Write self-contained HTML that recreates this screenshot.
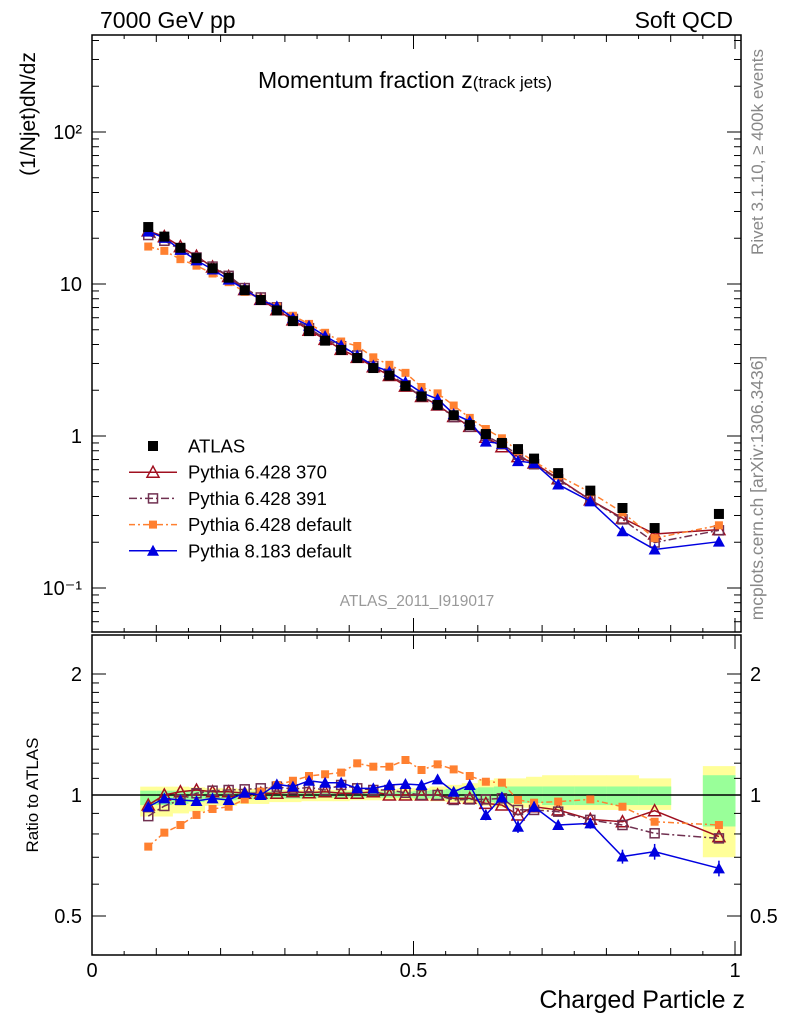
<!DOCTYPE html>
<html><head><meta charset="utf-8"><style>
html,body{margin:0;padding:0;background:#fff;}
svg{display:block;font-family:"Liberation Sans",sans-serif;}
</style></head><body>
<svg id="chart" width="786" height="1024" viewBox="0 0 786 1024" xmlns="http://www.w3.org/2000/svg">
<text x="100" y="28" font-size="23">7000 GeV pp</text>
<text x="733" y="28" font-size="23" text-anchor="end">Soft QCD</text>
<text x="258" y="88" font-size="23">Momentum fraction z<tspan font-size="17">(track jets)</tspan></text>
<text transform="translate(35,114) rotate(-90)" font-size="21" text-anchor="middle">(1/Njet)dN/dz</text>
<text transform="translate(763,152) rotate(-90)" font-size="17" fill="#888" text-anchor="middle">Rivet 3.1.10, ≥ 400k events</text>
<text transform="translate(763,488) rotate(-90)" font-size="17.5" fill="#888" text-anchor="middle">mcplots.cern.ch [arXiv:1306.3436]</text>
<text x="417" y="606" font-size="15.5" fill="#999" text-anchor="middle">ATLAS_2011_I919017</text>
<text transform="translate(38,795) rotate(-90)" font-size="17" text-anchor="middle">Ratio to ATLAS</text>
<text x="745" y="1008" font-size="25" text-anchor="end">Charged Particle z</text>
<g id="g"></g>
</svg>
<script>
const zCenters=[0.0875,0.1125,0.1375,0.1625,0.1875,0.2125,0.2375,0.2625,0.2875,0.3125,0.3375,0.3625,0.3875,0.4125,0.4375,0.4625,0.4875,0.5125,0.5375,0.5625,0.5875,0.6125,0.6375,0.6625,0.6875,0.725,0.775,0.825,0.875,0.975];
const zLo=[0.075,0.1,0.125,0.15,0.175,0.2,0.225,0.25,0.275,0.3,0.325,0.35,0.375,0.4,0.425,0.45,0.475,0.5,0.525,0.55,0.575,0.6,0.625,0.65,0.675,0.7,0.75,0.8,0.85,0.95];
const zHi=[0.1,0.125,0.15,0.175,0.2,0.225,0.25,0.275,0.3,0.325,0.35,0.375,0.4,0.425,0.45,0.475,0.5,0.525,0.55,0.575,0.6,0.625,0.65,0.675,0.7,0.75,0.8,0.85,0.9,1.0];
const atlas=[23.7,20.5,17.3,14.8,12.7,11.0,9.1,7.85,6.7,5.7,4.9,4.24,3.68,3.26,2.8,2.5,2.13,1.82,1.6,1.37,1.18,1.03,0.9,0.82,0.71,0.57,0.437,0.336,0.248,0.307];
const r370=[0.944,1.0,1.019,1.029,1.019,1.019,1.01,1.01,1.01,1.019,1.013,1.019,1.01,1.01,1.019,1.0,1.0,1.0,1.0,0.981,0.981,0.953,0.944,0.892,0.935,0.918,0.87,0.858,0.914,0.788];
const r391=[0.886,0.939,0.972,1.01,1.025,1.029,1.033,1.039,1.049,1.033,1.045,1.029,1.059,1.039,1.029,1.029,1.013,1.0,1.0,0.972,0.975,0.975,0.981,0.918,0.918,0.909,0.867,0.842,0.803,0.78];
const rDef=[0.744,0.806,0.842,0.892,0.923,0.935,0.975,1.019,1.059,1.085,1.115,1.126,1.137,1.199,1.176,1.176,1.222,1.154,1.192,1.158,1.115,1.079,1.073,0.972,0.957,0.963,0.975,0.935,0.858,0.842];
const rP8=[0.935,0.981,0.972,0.966,0.981,0.972,1.013,1.0,1.063,1.049,1.085,1.073,1.073,1.039,1.039,1.059,1.065,1.059,1.094,1.019,1.059,0.892,0.987,0.834,0.935,0.842,0.85,0.703,0.723,0.657];
const rP8Err=[0.01,0.01,0.01,0.01,0.01,0.01,0.01,0.01,0.015,0.015,0.015,0.015,0.015,0.02,0.02,0.02,0.02,0.02,0.025,0.025,0.03,0.03,0.03,0.035,0.03,0.025,0.03,0.04,0.045,0.045];
const yelLo=[0.884,0.884,0.9,0.91,0.94,0.94,0.95,0.95,0.96,0.96,0.965,0.965,0.965,0.97,0.97,0.97,0.97,0.97,0.965,0.96,0.95,0.94,0.93,0.93,0.93,0.918,0.918,0.918,0.918,0.70];
const yelHi=[1.049,1.049,1.049,1.045,1.04,1.04,1.035,1.035,1.03,1.03,1.03,1.03,1.03,1.03,1.03,1.035,1.04,1.04,1.05,1.06,1.07,1.09,1.1,1.1,1.11,1.12,1.12,1.12,1.1,1.18];
const grnLo=[0.944,0.944,0.95,0.96,0.97,0.97,0.975,0.975,0.98,0.98,0.98,0.985,0.985,0.985,0.985,0.985,0.985,0.98,0.98,0.975,0.97,0.96,0.955,0.955,0.955,0.944,0.944,0.944,0.944,0.835];
const grnHi=[1.025,1.025,1.025,1.025,1.02,1.02,1.02,1.02,1.02,1.02,1.02,1.02,1.02,1.02,1.02,1.02,1.02,1.025,1.03,1.035,1.04,1.045,1.05,1.05,1.05,1.05,1.05,1.05,1.05,1.12];
const mainTicks=["10\u207B\u00B9","1","10","10\u00B2"];
const ratioTicks=["0.5","1","2"];
const xTicks=["0","0.5","1"];

const NS="http://www.w3.org/2000/svg";
const G=document.getElementById('g');
function mk(t,a,p){const e=document.createElementNS(NS,t);for(const k in a)e.setAttribute(k,a[k]);(p||G).appendChild(e);return e;}
const X0=92,X1=741;
const xs=z=>92+z*643;
const ys=v=>436-152*Math.log10(v);
const yr=r=>795-121*Math.log2(r);
const MT=35,MB=632,RT=635,RB=955;

const bands=mk('g',{});


zCenters.forEach((z,i)=>{
  const a=mk('rect',{x:xs(zLo[i]),y:yr(yelHi[i]),width:xs(zHi[i])-xs(zLo[i])+0.5,height:yr(yelLo[i])-yr(yelHi[i]),fill:'#ffff99'},bands);
  
  
  const b=mk('rect',{x:xs(zLo[i]),y:yr(grnHi[i]),width:xs(zHi[i])-xs(zLo[i])+0.5,height:yr(grnLo[i])-yr(grnHi[i]),fill:'#99ff99'},bands);
  
  
});
const one=mk('line',{x1:X0,x2:X1,y1:yr(1),y2:yr(1),stroke:'#000','stroke-width':1.5});



[[MT,MB,'main-frame'],[RT,RB,'ratio-frame']].forEach(([t,b,n])=>{
  const f=mk('rect',{x:X0,y:t,width:X1-X0,height:b-t,fill:'none',stroke:'#000','stroke-width':1.5});
  
  
});
for(let d=-2;d<=2;d++){for(let m=1;m<10;m++){const v=m*Math.pow(10,d);const y=ys(v);if(y<MT||y>MB)continue;const L=m==1?14:7;
  mk('line',{x1:X0,x2:X0+L,y1:y,y2:y,stroke:'#000'});mk('line',{x1:X1-L,x2:X1,y1:y,y2:y,stroke:'#000'});}}
[0.1,1,10,100].forEach((v,i)=>{const t=mk('text',{x:82,y:ys(v)+7,'font-size':20,'text-anchor':'end'});t.textContent=mainTicks[i];
  
  });
[0.4,0.5,0.6,0.7,0.8,0.9,1,1.1,1.2,1.3,1.4,1.5,1.6,1.7,1.8,1.9,2,2.5].forEach(v=>{const y=yr(v);if(y<RT||y>RB)return;const L=(v==0.5||v==1||v==2)?14:7;
  mk('line',{x1:X0,x2:X0+L,y1:y,y2:y,stroke:'#000'});mk('line',{x1:X1-L,x2:X1,y1:y,y2:y,stroke:'#000'});});
[0.5,1,2].forEach((v,i)=>{[[82,'end'],[750,'start']].forEach(([x,an])=>{const t=mk('text',{x:x,y:yr(v)+7,'font-size':20,'text-anchor':an});t.textContent=ratioTicks[i];
  
  });});
for(let k=0;k<=20;k++){const z=k*0.05;const x=xs(z);const L=k%10==0?14:(k%2==0?7:4);
  [[MB,-1],[MT,1],[RB,-1],[RT,1]].forEach(([y,s])=>mk('line',{x1:x,x2:x,y1:y,y2:y+s*L,stroke:'#000'}));}
[0,0.5,1].forEach((z,i)=>{const t=mk('text',{x:xs(z),y:977,'font-size':20,'text-anchor':'middle'});t.textContent=xTicks[i];
  
  });

function marker(kind,x,y,col,p){
  if(kind=='sq')return mk('rect',{x:x-5,y:y-5,width:10,height:10,fill:'#000'},p);
  if(kind=='osq')return mk('rect',{x:x-4.5,y:y-4.5,width:9,height:9,fill:'none',stroke:col,'stroke-width':1.5},p);
  if(kind=='fsq')return mk('rect',{x:x-4,y:y-4,width:8,height:8,fill:col},p);
  if(kind=='otri')return mk('path',{d:`M${x},${y-6}L${x+6},${y+5}L${x-6},${y+5}Z`,fill:'none',stroke:col,'stroke-width':1.5},p);
  return mk('path',{d:`M${x},${y-6}L${x+6},${y+5}L${x-6},${y+5}Z`,fill:col},p);
}
const series=[
 {n:'pythia-6428-370',r:r370,c:'#a01020',k:'otri',dash:''},
 {n:'pythia-6428-391',r:r391,c:'#703050',k:'osq',dash:'8,3,2,3'},
 {n:'pythia-6428-default',r:rDef,c:'#ff8030',k:'fsq',dash:'6,3,2,3'},
 {n:'pythia-8183-default',r:rP8,c:'#0000e0',k:'ftri',dash:''}];
series.forEach(s=>{
  const gm=mk('g',{});
  
  const gr=mk('g',{});
  
  const pm=zCenters.map((z,i)=>xs(z)+','+ys(atlas[i]*s.r[i])).join(' ');
  const pr=zCenters.map((z,i)=>xs(z)+','+yr(s.r[i])).join(' ');
  mk('polyline',{points:pm,fill:'none',stroke:s.c,'stroke-width':1.5,'stroke-dasharray':s.dash},gm);
  mk('polyline',{points:pr,fill:'none',stroke:s.c,'stroke-width':1.5,'stroke-dasharray':s.dash},gr);
  zCenters.forEach((z,i)=>{
    if(s.n=='pythia-8183-default'){const e=rP8Err[i];mk('line',{x1:xs(z),x2:xs(z),y1:yr(s.r[i]*(1+e)),y2:yr(s.r[i]*(1-e)),stroke:s.c,'stroke-width':1.5},gr);}
    const a=marker(s.k,xs(z),ys(atlas[i]*s.r[i]),s.c,gm);
    const b=marker(s.k,xs(z),yr(s.r[i]),s.c,gr);
  });
});
const ga=mk('g',{});

zCenters.forEach((z,i)=>{const m=marker('sq',xs(z),ys(atlas[i]),'#000',ga);});

const lg=mk('g',{});

const labels=['ATLAS','Pythia 6.428 370','Pythia 6.428 391','Pythia 6.428 default','Pythia 8.183 default'];
labels.forEach((l,i)=>{const y=446+i*26.2;
  if(i==0)marker('sq',153,y,'#000',lg);
  else{const s=series[i-1];mk('line',{x1:129,x2:177,y1:y,y2:y,stroke:s.c,'stroke-width':1.5,'stroke-dasharray':s.dash},lg);marker(s.k,153,y,s.c,lg);}
  const t=mk('text',{x:188,y:y+6.5,'font-size':18.5},lg);t.textContent=l;
  
  });
</script>
</body></html>
